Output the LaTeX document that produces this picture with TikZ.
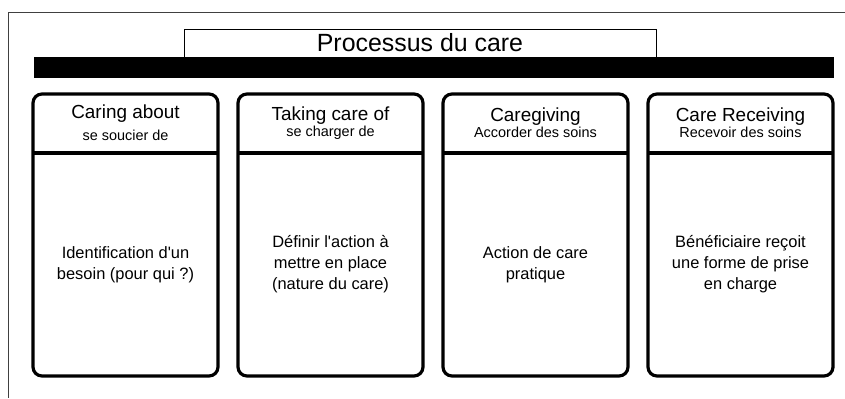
\documentclass[tikz,border=0pt]{standalone}
\usepackage{fontspec}
\setmainfont{Liberation Sans}[Ligatures=TeXOff]
\usetikzlibrary{positioning}
\newcommand\sous{\fontsize{14.5}{17}\selectfont}

\begin{document}
\begin{tikzpicture}[x=1bp,y=-1bp,node distance=205bp,on grid,
    soin/.style={draw,line width=3.2bp,rounded corners=9bp,outer sep=0pt,minimum width=185bp,minimum height=282bp},
    tete/.style={align=center,inner sep=0pt,font=\fontsize{19}{20}\selectfont},
    corps/.style={align=center,inner sep=0pt,font=\fontsize{16.5}{21}\selectfont}]
\useasboundingbox (0,0) rectangle (845,398);
\draw[black!75,line width=0.8bp] (845,12.5) -- (8,12.5) -- (8,398);
\node[draw,line width=0.8bp,minimum width=472bp,minimum height=28bp,font=\fontsize{25}{26}\selectfont] (titre) at (420,43) {Processus du care};
\fill (34,57) rectangle (834,78);
\node[soin] (about) at (125.5,235) {};
\node[soin] (taking) [right =of about] {};
\node[soin] (giving) [right =of taking] {};
\node[soin] (receiving) [right =of giving] {};
\foreach \b in {about,taking,giving,receiving}
    \draw[line width=3.2bp] ([yshift=-59bp]\b.north west) -- ([yshift=-59bp]\b.north east);
\node[tete] (aboutT) at ([yshift=-29bp]about.north) {Caring about\\[2bp]{\sous se soucier de}};
\node[tete] (takingT) at ([yshift=-29bp]taking.north) {Taking care of\\[-4bp]{\sous se charger de}};
\node[tete] (givingT) at ([yshift=-29bp]giving.north) {Caregiving\\[-4bp]{\sous Accorder des soins}};
\node[tete] (receivingT) at ([yshift=-29bp]receiving.north) {Care Receiving\\[-4bp]{\sous Recevoir des soins}};
\node[corps] (aboutC) at ([yshift=-29.5bp]about.center) {Identification d'un\\besoin (pour qui ?)};
\node[corps] (takingC) at ([yshift=-29.5bp]taking.center) {Définir l'action à\\mettre en place\\(nature du care)};
\node[corps] (givingC) at ([yshift=-29.5bp]giving.center) {Action de care\\pratique};
\node[corps] (receivingC) at ([yshift=-29.5bp]receiving.center) {Bénéficiaire reçoit\\une forme de prise\\en charge};
\end{tikzpicture}
\end{document}
